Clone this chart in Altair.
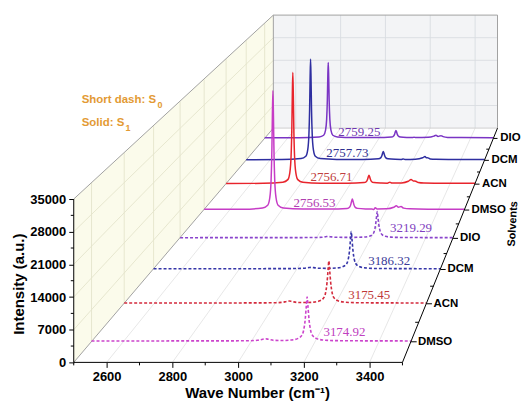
import altair as alt
import pandas as pd

# ---------------- data ----------------
trace_solvent = ["DMSO", "ACN", "DCM", "DIO", "DMSO", "ACN", "DCM", "DIO"]
trace_state = ["S0", "S0", "S0", "S0", "S1", "S1", "S1", "S1"]
trace_depth = [0.5, 1.5, 2.5, 3.5, 4.5, 5.5, 6.5, 7.5]
trace_color = ["#cc44cc", "#d42a3c", "#3535a8", "#8a44cc",
               "#c63cc6", "#e8242c", "#2e2ea0", "#7a34c4"]

peak_label = ["3174.92", "3175.45", "3186.32", "3219.29",
              "2756.53", "2756.71", "2757.73", "2759.25"]
label_color = ["#c040c0", "#c03838", "#3a3a98", "#8040c0",
               "#b040b0", "#c04040", "#303090", "#7038b0"]
label_wn = [3226, 3241, 3248, 3269, 2843, 2839, 2836, 2822]
label_int = [2260, 2120, 2130, 2690, 1900, 1960, 2090, 1860]

wn_dmso_s0 = [2500, 2700, 2900, 2990, 3020, 3036, 3045, 3054, 3070, 3100,
              3125, 3145, 3157, 3164, 3169, 3172.5, 3175, 3177.5, 3181, 3186,
              3193, 3205, 3225, 3260, 3350, 3500]
int_dmso_s0 = [180, 190, 200, 230, 330, 560, 660, 540, 320, 280,
               380, 700, 1300, 2500, 4900, 7900, 9870, 7900, 4900, 2500,
               1300, 700, 400, 260, 210, 190]

wn_acn_s0 = [2500, 2700, 2900, 2990, 3022, 3037, 3046, 3055, 3072, 3100,
             3127, 3147, 3159, 3166, 3171, 3174.5, 3177, 3179.5, 3183, 3188,
             3195, 3207, 3227, 3262, 3350, 3500]
int_acn_s0 = [180, 190, 200, 230, 330, 540, 630, 520, 310, 280,
              380, 700, 1300, 2500, 4950, 7950, 9940, 7950, 4950, 2500,
              1300, 700, 400, 260, 210, 190]

wn_dcm_s0 = [2500, 2700, 2900, 2995, 3027, 3042, 3050, 3058, 3075, 3110,
             3139, 3159, 3171, 3178, 3183, 3186.5, 3189, 3191.5, 3195, 3200,
             3207, 3219, 3239, 3274, 3360, 3500]
int_dcm_s0 = [180, 190, 200, 230, 320, 470, 530, 450, 300, 280,
              370, 660, 1230, 2350, 4600, 7400, 9240, 7400, 4600, 2350,
              1230, 660, 380, 250, 210, 190]

wn_dio_s0 = [2500, 2700, 2900, 2990, 3020, 3034, 3042, 3050, 3068, 3120,
             3172, 3192, 3204, 3211, 3216, 3219.5, 3222, 3224.5, 3228, 3233,
             3240, 3252, 3272, 3300, 3380, 3500]
int_dio_s0 = [180, 190, 200, 220, 300, 440, 500, 420, 290, 260,
              330, 530, 950, 1800, 3450, 5500, 6885, 5500, 3450, 1800,
              950, 530, 320, 250, 210, 190]

wn_dmso_s1 = [2500, 2650, 2724, 2744, 2752, 2757, 2760, 2762, 2764, 2766,
              2768, 2771, 2776, 2784, 2804, 2880, 2980, 3049, 3059, 3063,
              3066, 3069, 3072, 3075, 3079, 3089, 3120, 3145, 3151, 3157,
              3164, 3200, 3228, 3238, 3246, 3256, 3266, 3290, 3360, 3500]
int_dmso_s1 = [200, 220, 560, 1300, 3300, 8000, 16000, 25500, 31950, 25500,
               16000, 8000, 3300, 1300, 560, 280, 260, 450, 850, 1450,
               2300, 2940, 2300, 1450, 850, 450, 290, 260, 120, 620,
               300, 340, 750, 1150, 780, 950, 520, 320, 250, 220]

wn_acn_s1 = [2500, 2650, 2728, 2748, 2756, 2761, 2764, 2766, 2768, 2770,
             2772, 2775, 2780, 2788, 2808, 2880, 2990, 3054, 3064, 3068,
             3071, 3074, 3077, 3080, 3084, 3094, 3125, 3148, 3158, 3166,
             3205, 3232, 3243, 3252, 3262, 3272, 3295, 3360, 3500]
int_acn_s1 = [200, 220, 550, 1270, 3230, 7800, 15600, 24900, 31225, 24900,
              15600, 7800, 3230, 1270, 550, 280, 260, 430, 760, 1270,
              1990, 2510, 1990, 1270, 760, 430, 290, 250, 560, 290,
              340, 800, 1300, 900, 800, 450, 300, 250, 220]

wn_dcm_s1 = [2500, 2650, 2730, 2750, 2758, 2763, 2766, 2768, 2770, 2772,
             2774, 2777, 2782, 2790, 2810, 2880, 2990, 3055, 3065, 3069,
             3072, 3075, 3078, 3081, 3085, 3095, 3125, 3150, 3158, 3166,
             3210, 3240, 3250, 3256, 3263, 3272, 3295, 3360, 3500]
int_dcm_s1 = [200, 220, 530, 1200, 3060, 7400, 14800, 23600, 29560, 23600,
              14800, 7400, 3060, 1200, 530, 280, 260, 440, 790, 1320,
              2070, 2620, 2070, 1320, 790, 440, 290, 260, 420, 270,
              330, 750, 1100, 780, 720, 420, 290, 250, 220]

wn_dio_s1 = [2500, 2650, 2738, 2758, 2766, 2771, 2774, 2776, 2778, 2780,
             2782, 2785, 2790, 2798, 2818, 2890, 2990, 3054, 3064, 3068,
             3071, 3074, 3077, 3080, 3084, 3094, 3125, 3146, 3153, 3161,
             3215, 3240, 3249, 3258, 3266, 3271, 3280, 3300, 3360, 3500]
int_dio_s1 = [200, 220, 450, 970, 2430, 5800, 11600, 18500, 23090, 18500,
              11600, 5800, 2430, 970, 450, 280, 260, 420, 760, 1230,
              1930, 2420, 1930, 1230, 760, 420, 290, 260, 380, 270,
              330, 700, 950, 620, 750, 820, 550, 320, 250, 220]

spectra_wn = [wn_dmso_s0, wn_acn_s0, wn_dcm_s0, wn_dio_s0,
              wn_dmso_s1, wn_acn_s1, wn_dcm_s1, wn_dio_s1]
spectra_int = [int_dmso_s0, int_acn_s0, int_dcm_s0, int_dio_s0,
               int_dmso_s1, int_acn_s1, int_dcm_s1, int_dio_s1]
for a, b in zip(spectra_wn, spectra_int):
    assert len(a) == len(b)

wn_ticks = [2600, 2800, 3000, 3200, 3400]
wn_minor = [2500, 2700, 2900, 3100, 3300, 3500]
int_ticks = [0, 7000, 14000, 21000, 28000, 35000]
int_minor = [3500, 10500, 17500, 24500, 31500]
int_grid = [7000, 14000, 21000, 28000]
wn_range = [2500, 3500]
int_range = [0, 35000]
box_depth = 8
depth_minor = [1, 2, 3, 4, 5, 6, 7]

# ---------------- pseudo-3D perspective projection ----------------
PX_W, PX_H = 450, 353
KX = 0.33            # px per wave-number unit (front plane)
KY = 164 / 35000     # px per intensity unit (front plane)
VAN_W = wn_range[0] + 630 / KX   # vanishing point, data units
VAN_I = 763 / KY
DKX, DKY = 0.0583, 0.0557


def proj(w, i, z):
    sx = 1.0 / (1.0 + DKX * z)
    sy = 1.0 / (1.0 + DKY * z)
    return VAN_W + (w - VAN_W) * sx, VAN_I + (i - VAN_I) * sy


def seg(p, q):
    x, y = proj(*p)
    x2, y2 = proj(*q)
    return {"x": x, "y": y, "x2": x2, "y2": y2}


xscale = alt.Scale(domain=[wn_range[0], wn_range[0] + PX_W / KX], nice=False, zero=False)
yscale = alt.Scale(domain=[0, PX_H / KY], nice=False, zero=False)

FONT = "Liberation Sans"
ax_x = alt.Axis(values=wn_ticks, format="d", domain=False, grid=False,
                tickSize=5, tickColor="black", tickWidth=1,
                labelFont=FONT, labelFontSize=13, labelFontWeight="bold",
                labelColor="black", labelPadding=3,
                title="Wave Number (cm⁻¹)", titleFont=FONT, titleFontSize=15,
                titleFontWeight="bold", titleColor="black",
                titleX=184, titleY=30, titleBaseline="middle")
ax_y = alt.Axis(values=int_ticks, format="d", domain=False, grid=False,
                tickSize=5, tickColor="black", tickWidth=1,
                labelFont=FONT, labelFontSize=13, labelFontWeight="bold",
                labelColor="black", labelPadding=3,
                title="Intensity (a.u.)", titleFont=FONT, titleFontSize=15,
                titleFontWeight="bold", titleColor="black",
                titleX=-55, titleY=274, titleBaseline="middle", titleAngle=270)

X = alt.X("x:Q", scale=xscale, axis=ax_x)
Y = alt.Y("y:Q", scale=yscale, axis=ax_y)

layers = []

# left wall (cream)
x0, t0 = proj(wn_range[0], int_range[1], 0)
x8, t8 = proj(wn_range[0], int_range[1], box_depth)
_, b0 = proj(wn_range[0], int_range[0], 0)
_, b8 = proj(wn_range[0], int_range[0], box_depth)
df_lw = pd.DataFrame({"x": [x0, x8], "y": [t0, t8], "y2": [b0, b8]})
layers.append(alt.Chart(df_lw).mark_area(color="#fbfbeb").encode(x=X, y=Y, y2="y2:Q"))

# back wall (light grey)
bx1, by1 = proj(wn_range[0], int_range[0], box_depth)
bx2, by2 = proj(wn_range[1], int_range[1], box_depth)
df_bw = pd.DataFrame({"x": [bx1], "x2": [bx2], "y": [by1], "y2": [by2]})
layers.append(alt.Chart(df_bw).mark_rect(color="#f3f4f6").encode(x=X, x2="x2:Q", y=Y, y2="y2:Q"))


def rules(segs, color, width=1.0):
    return alt.Chart(pd.DataFrame(segs)).mark_rule(color=color, strokeWidth=width).encode(
        x=X, y=Y, x2="x2:Q", y2="y2:Q")


# grids
g_back = [seg((w, int_range[0], box_depth), (w, int_range[1], box_depth)) for w in wn_ticks]
g_back += [seg((wn_range[0], i, box_depth), (wn_range[1], i, box_depth)) for i in int_grid]
layers.append(rules(g_back, "#d9dce1", 0.9))
g_left = [seg((wn_range[0], int_range[0], z), (wn_range[0], int_range[1], z)) for z in trace_depth]
g_left += [seg((wn_range[0], i, 0), (wn_range[0], i, box_depth)) for i in int_grid]
layers.append(rules(g_left, "#e4e4cc", 0.9))
g_floor = [seg((w, int_range[0], 0), (w, int_range[0], box_depth)) for w in wn_ticks]
layers.append(rules(g_floor, "#e4e4e4", 0.9))

# box edges (grey)
edges = [
    seg((wn_range[0], int_range[0], box_depth), (wn_range[0], int_range[1], box_depth)),
    seg((wn_range[0], int_range[1], box_depth), (wn_range[1], int_range[1], box_depth)),
    seg((wn_range[1], int_range[1], box_depth), (wn_range[1], int_range[0], box_depth)),
    seg((wn_range[0], int_range[1], 0), (wn_range[0], int_range[1], box_depth)),
    seg((wn_range[0], int_range[0], 0), (wn_range[0], int_range[0], box_depth)),
]
layers.append(rules(edges, "#a2a2a2", 1.0))
layers.append(rules([seg((wn_range[0], int_range[0], box_depth),
                         (wn_range[1], int_range[0], box_depth))], "#cfcfcf", 1.0))

# spectra, back to front
for k in range(len(trace_depth) - 1, -1, -1):
    z = trace_depth[k]
    pts = [proj(w, i, z) for w, i in zip(spectra_wn[k], spectra_int[k])]
    df = pd.DataFrame({"x": [p[0] for p in pts], "y": [p[1] for p in pts],
                       "idx": list(range(len(pts)))})
    kw = dict(color=trace_color[k], strokeWidth=1.5, interpolate="monotone")
    if trace_state[k] == "S0":
        kw["strokeDash"] = [3, 2]
        kw["strokeWidth"] = 1.6
    layers.append(alt.Chart(df).mark_line(**kw).encode(x=X, y=Y, order="idx:Q"))

# peak labels
lp = [proj(w, i, z) for w, i, z in zip(label_wn, label_int, trace_depth)]
df_lab = pd.DataFrame({"x": [p[0] for p in lp], "y": [p[1] for p in lp],
                       "t": peak_label, "c": label_color})
layers.append(alt.Chart(df_lab).mark_text(font="Liberation Serif", fontSize=13,
                                          align="left", baseline="middle").encode(
    x=X, y=Y, text="t:N", color=alt.Color("c:N", scale=None)))

# axis lines (black)
axes_lines = [
    seg((wn_range[0], int_range[0], 0), (wn_range[0], int_range[1], 0)),
    seg((wn_range[0], int_range[0], 0), (wn_range[1], int_range[0], 0)),
    seg((wn_range[1], int_range[0], 0), (wn_range[1], int_range[0], box_depth)),
]
# minor ticks on the front axes and the depth axis
tick_w = 9          # ~3 px in wave-number units
tick_i = 3 / KY     # ~3 px in intensity units
axes_lines += [seg((w, 0, 0), (w, -tick_i, 0)) for w in wn_minor]
axes_lines += [seg((wn_range[0] - tick_w, i, 0), (wn_range[0], i, 0)) for i in int_minor]
axes_lines += [seg((wn_range[1] - 12, 0, z), (wn_range[1], 0, z)) for z in depth_minor]
axes_lines += [seg((wn_range[1], 0, z), (wn_range[1] + 18, 0, z)) for z in trace_depth]
layers.append(rules(axes_lines, "black", 1.0))

# depth-axis labels
sp = [proj(wn_range[1], 0, z) for z in trace_depth]
df_sol = pd.DataFrame({"x": [p[0] for p in sp], "y": [p[1] for p in sp], "t": trace_solvent})
layers.append(alt.Chart(df_sol).mark_text(font=FONT, fontSize=11.5, fontWeight="bold",
                                          align="left", baseline="middle", dx=7,
                                          color="black").encode(x=X, y=Y, text="t:N"))

# legend-like annotation and depth-axis title
one = pd.DataFrame({"a": [0]})
ORANGE = "#e39a34"


def note(txt, px, py, size, color=ORANGE, angle=0, weight="bold"):
    return alt.Chart(one).mark_text(text=txt, font=FONT, fontSize=size, fontWeight=weight,
                                    color=color, align="left", baseline="middle",
                                    angle=angle).encode(x=alt.value(px), y=alt.value(py))


layers.append(note("Short dash: S", 8, 90, 11.5))
layers.append(note("0", 84, 95, 9))
layers.append(note("Solid: S", 8, 113, 11.5))
layers.append(note("1", 52, 118, 9))
layers.append(alt.Chart(one).mark_text(text="Solvents", font=FONT, fontSize=11,
                                       fontWeight="bold", color="black", align="center",
                                       baseline="middle", angle=273).encode(
    x=alt.value(441), y=alt.value(214)))

chart = alt.layer(*layers).properties(
    width=PX_W, height=PX_H,
    autosize=alt.AutoSizeParams(type="none"),
    padding={"left": 66, "top": 2, "right": 0, "bottom": 38},
).configure_view(stroke=None)

chart.save("out.html", embed_options={"renderer": "svg", "actions": False})
